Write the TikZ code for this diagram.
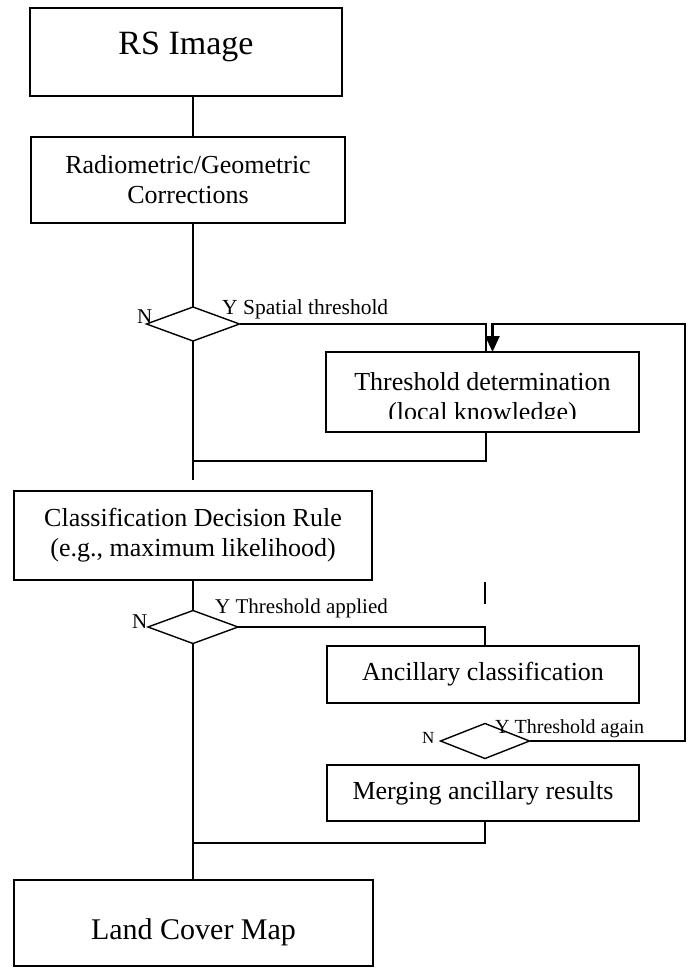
\documentclass[tikz,border=0pt]{standalone}
\usepackage{fontspec}
\setmainfont{Liberation Serif}
\usetikzlibrary{shapes,arrows,arrows.meta,positioning,calc}

\begin{document}
\begin{tikzpicture}[x=1pt,y=-1pt]
\tikzstyle{box}=[draw,line width=1.4pt,inner sep=0pt,outer sep=0pt,align=center,font=\fontsize{26}{30}\selectfont]
\tikzstyle{test}=[draw,diamond,line width=1.4pt,inner sep=0pt,outer sep=0pt]
\tikzstyle{lab}=[inner sep=0pt,anchor=base west,font=\fontsize{21}{21}\selectfont]
\tikzstyle{wire}=[line width=1.4pt]
\tikzstyle{back}=[line width=2.4pt,-{Triangle[width=14pt,length=16pt]}]

\useasboundingbox (0,0) rectangle (693,968);

\node [box,minimum width=312pt,minimum height=88pt,label={[font=\fontsize{34}{34}\selectfont,anchor=base,yshift=5pt]center:RS Image}] (rs) at (186,52) {};
\node [box,minimum width=314pt,minimum height=86pt] (corr) at (188,180) {Radiometric/Geometric\\Corrections};
\node [test,minimum width=93pt,minimum height=34pt] (d1) at (193,324) {};
\node [box,minimum width=313pt,minimum height=80pt] (thr) at (482.5,392) {};
\node [box,minimum width=358pt,minimum height=89pt] (cls) at (193,535.5) {Classification Decision Rule\\(e.g., maximum likelihood)};
\node [test,minimum width=90pt,minimum height=33pt] (d2) at (193,627) {};
\node [box,minimum width=312pt,minimum height=57pt] (anc) at (483,674.5) {Ancillary classification};
\node [test,minimum width=89pt,minimum height=35pt] (d3) at (485,741) {};
\node [box,minimum width=312pt,minimum height=56pt] (mrg) at (483,793) {Merging ancillary results};
\node [box,minimum width=359pt,minimum height=86pt,label={[font=\fontsize{30}{30}\selectfont,anchor=base,yshift=-9pt]center:Land Cover Map}] (lcm) at (193.5,923) {};

\begin{scope}
\clip (326,352) rectangle (639,418);
\node [font=\fontsize{26}{30}\selectfont,align=center,inner sep=0pt] (thrtext) at (482.5,399) {Threshold determination\\(local knowledge)};
\end{scope}

\node [lab] (n1) at (137,323) {N};
\node [lab,font=\fontsize{21.5}{21.5}\selectfont] (y1) at (222,314) {Y Spatial threshold};
\node [lab] (n2) at (132,628) {N};
\node [lab] (y2) at (215,613) {Y Threshold applied};
\node [lab,font=\fontsize{17}{17}\selectfont] (n3) at (422,743) {N};
\node [lab,font=\fontsize{20}{20}\selectfont] (y3) at (495,733) {Y Threshold again};

\coordinate (j1) at (193,461);
\coordinate (gap) at (193,480);
\coordinate (j2) at (193,843);
\coordinate (s1) at (485,582);
\coordinate (s2) at (485,604);
\coordinate (fb) at (685,324);

\draw [wire] (rs.south -| d1) -- (corr.north -| d1);
\draw [wire] (corr.south -| d1) -- (d1.north);
\draw [wire] (d1.east) -| ([xshift=3.5pt]thr.north);
\draw [wire] ([xshift=3.5pt]thr.south) |- (j1);
\draw [wire] (d1.south) -- (gap);
\draw [wire] (cls.south) -- (d2.north);
\draw [wire] (d2.east) -| ([xshift=2pt]anc.north);
\draw [wire] (s1) -- (s2);
\draw [wire] (d2.south) -- (lcm.north -| d2);
\draw [wire] ([xshift=2pt]mrg.south) |- (j2);
\draw [back] (d3.east) -| (fb) -| ([xshift=10pt]thr.north);
\end{tikzpicture}
\end{document}
